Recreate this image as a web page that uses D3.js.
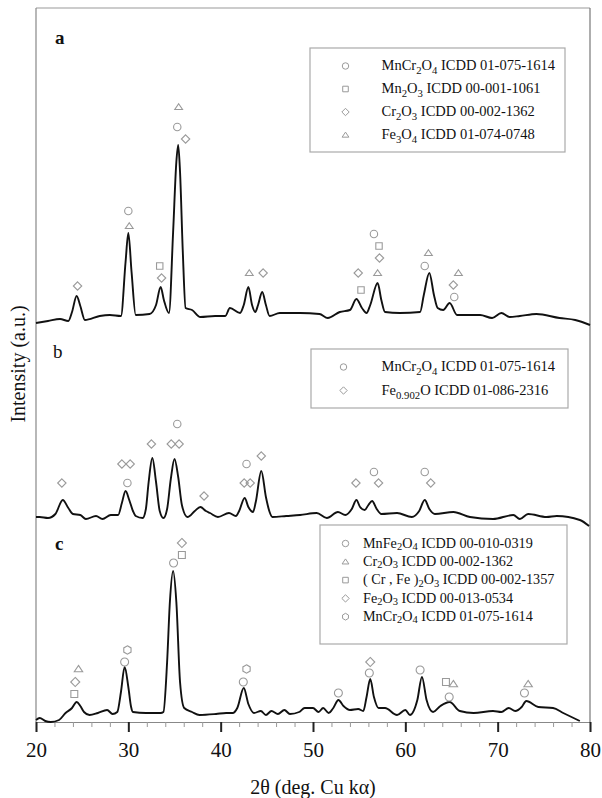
<!DOCTYPE html>
<html><head><meta charset="utf-8">
<script src="https://cdn.jsdelivr.net/npm/d3@7"></script>
<style>body{margin:0;background:#fff}</style></head>
<body><svg id="chart" width="602" height="798"></svg>
<script>
// ---------------- data ----------------
const xTicks = [20, 30, 40, 50, 60, 70, 80];
const xMinorTicks = [22,24,26,28,32,34,36,38,42,44,46,48,52,54,56,58,62,64,66,68,72,74,76,78];
const xLabel = "2θ (deg. Cu kα)";
const yLabel = "Intensity (a.u.)";
const panelLabels = ["a", "b", "c"];
const panelOffsets = [400, 205, 0];

// [2theta, intensity]
const patternA = [[20.0,-1],[21.3,1],[22.6,3],[23.5,1],[23.9,10],[24.4,26],[24.8,16],[25.3,2],[26.9,6],[28.0,7],[29.2,6],[29.7,60],[30.0,89],[30.35,50],[30.8,7],[32.3,8],[33.0,17],[33.5,35],[33.85,22],[34.4,9],[34.85,90],[35.2,160],[35.4,177],[35.6,150],[35.9,70],[36.2,14],[36.9,12],[37.8,5],[39.4,6],[40.5,6],[41.0,14],[42.1,9],[42.5,17],[43.0,35],[43.4,17],[43.75,10],[44.05,17],[44.5,30],[44.9,17],[45.3,6],[46.4,9],[48.6,9],[50.7,8],[51.6,4],[52.9,10],[54.0,12],[54.7,23],[55.3,14],[55.8,9],[56.2,17],[57.0,39],[57.4,22],[57.8,10],[59.4,9],[61.6,10],[62.0,27],[62.6,49],[63.1,27],[63.5,14],[64.1,12],[64.8,19],[65.6,7],[68.1,7],[69.4,4],[70.4,9],[71.3,5],[72.4,6],[74.2,8],[76.7,4],[78.4,2],[80.0,-3]];
const patternB = [[20.0,0],[20.4,0],[21.3,-1],[22.1,3],[22.9,17],[23.5,9],[24.0,3],[24.8,2],[25.4,-2],[26.5,1],[27.2,-2],[28.1,2],[28.9,2],[29.3,14],[29.7,26],[30.1,17],[30.5,6],[30.8,1],[31.55,-1],[31.9,8],[32.2,35],[32.6,59],[33.0,35],[33.4,6],[33.8,-1],[34.2,8],[34.6,38],[35.0,58],[35.4,40],[35.8,12],[36.4,0],[37.2,6],[37.8,10],[38.4,6],[38.85,4],[39.7,0],[40.9,4],[41.65,1],[42.0,6],[42.6,19],[43.0,10],[43.5,5],[43.8,15],[44.4,46],[44.9,20],[45.3,5],[45.6,0],[47.1,1],[48.6,2],[50.4,4],[51.5,-1],[52.7,5],[53.5,2],[54.2,8],[54.7,17],[55.1,10],[55.6,7],[56.0,12],[56.4,16],[56.9,8],[57.4,3],[59.1,4],[60.7,0],[61.5,6],[62.1,17],[62.6,8],[63.2,3],[65.2,5],[67.0,0],[69.5,-2],[71.7,2],[72.4,-2],[73.3,3],[75.3,0],[76.4,1],[78.9,-3],[79.9,-9]];
const patternC = [[20.0,2],[20.4,4],[21.0,1],[21.6,0],[22.5,2],[23.2,9],[23.9,14],[24.4,20],[24.8,16],[25.2,10],[25.8,7],[26.7,9],[27.7,12],[28.3,8],[28.8,10],[29.2,30],[29.6,55],[30.0,35],[30.3,15],[30.5,10],[31.9,9],[33.5,9],[33.8,10],[34.2,60],[34.5,120],[34.85,151],[35.2,120],[35.6,40],[36.05,14],[36.9,10],[37.7,7],[39.5,8],[40.6,9],[41.3,9],[41.8,14],[42.5,34],[43.0,18],[43.6,9],[44.35,11],[44.9,7],[45.5,11],[46.2,8],[46.9,12],[47.5,8],[48.5,10],[49.1,14],[50.0,14],[50.6,10],[51.1,14],[51.7,9],[52.2,14],[52.75,22],[53.3,16],[54.0,12],[54.9,13],[55.45,11],[55.8,25],[56.2,43],[56.6,25],[57.1,14],[57.8,14],[59.1,7],[60.0,12],[60.5,7],[61.3,22],[61.8,45],[62.3,22],[63.0,10],[63.8,16],[64.8,20],[65.9,11],[67.4,9],[69.5,11],[70.4,10],[71.2,14],[71.9,11],[72.6,15],[73.1,21],[74.4,15],[76.0,14],[77.1,9],[78.9,1]];

// [shape, 2theta, intensity]
const markersA = [["diamond",24.5,36],["circle",30.0,111],["triangle",30.1,96],["square",33.4,56],["diamond",33.6,44],["triangle",35.45,215],["circle",35.3,195],["diamond",36.2,183],["triangle",43.1,49],["diamond",44.6,49],["diamond",54.9,49],["square",55.2,32],["circle",56.6,88],["square",57.15,76],["diamond",57.2,64],["triangle",57.0,49],["triangle",62.5,69],["circle",62.1,56],["triangle",65.75,49],["diamond",65.2,37],["circle",65.3,25]];
const markersB = [["diamond",22.8,34],["diamond",29.3,53],["diamond",30.2,53],["circle",29.9,34],["diamond",32.5,73],["diamond",34.65,73],["diamond",35.5,73],["circle",35.3,93],["diamond",38.2,21],["diamond",42.55,34],["diamond",43.2,34],["circle",42.8,53],["diamond",44.4,61],["diamond",54.65,34],["circle",56.6,45],["diamond",57.1,34],["circle",62.1,45],["diamond",62.75,34]];
const markersC = [["triangle",24.6,53],["diamond",24.25,40],["square",24.15,28],["hexagon",29.9,72],["circle",29.6,60],["diamond",35.8,179],["square",35.8,167],["circle",34.9,159],["hexagon",42.8,53],["circle",42.45,40],["circle",52.75,29],["diamond",56.2,60],["circle",56.1,49],["circle",61.6,52],["square",64.4,40],["triangle",65.2,38],["circle",64.75,25],["triangle",73.3,38],["circle",72.9,29]];

// legend entries: [shape, label]  (_{..} = subscript)
const legendA = [["circle","MnCr_{2}O_{4} ICDD 01-075-1614"],["square","Mn_{2}O_{3} ICDD 00-001-1061"],["diamond","Cr_{2}O_{3} ICDD 00-002-1362"],["triangle","Fe_{3}O_{4} ICDD 01-074-0748"]];
const legendB = [["circle","MnCr_{2}O_{4} ICDD 01-075-1614"],["diamond","Fe_{0.902}O ICDD 01-086-2316"]];
const legendC = [["circle","MnFe_{2}O_{4} ICDD 00-010-0319"],["triangle","Cr_{2}O_{3} ICDD 00-002-1362"],["square","( Cr , Fe )_{2}O_{3} ICDD 00-002-1357"],["diamond","Fe_{2}O_{3} ICDD 00-013-0534"],["hexagon","MnCr_{2}O_{4} ICDD 01-075-1614"]];

// ---------------- drawing ----------------
const svg = d3.select("#chart");
const L = 36, R = 590, T = 8, B = 722;
const x = d3.scaleLinear().domain([20, 80]).range([L, R]);
const y = d3.scaleLinear().domain([0, 714]).range([B, T]);
const serif = "'Liberation Serif','Times New Roman',serif";
const markColor = "#9a9a9a";

// frame
svg.append("line").attr("x1", L).attr("x2", R).attr("y1", T).attr("y2", T).attr("stroke", "#999").attr("stroke-width", 1.2);
svg.append("line").attr("x1", R).attr("x2", R).attr("y1", T).attr("y2", B).attr("stroke", "#777").attr("stroke-width", 1.2);
svg.append("line").attr("x1", L).attr("x2", L).attr("y1", T).attr("y2", B).attr("stroke", "#888").attr("stroke-width", 1.2);

// x axis
const axis = svg.append("g").attr("transform", `translate(0,${B})`)
  .call(d3.axisBottom(x).tickValues(xTicks).tickSize(10).tickFormat(d3.format("d")));
axis.select(".domain").attr("stroke", "#888").attr("stroke-width", 1.2);
axis.selectAll(".tick line").attr("stroke", "#222").attr("stroke-width", 2);
axis.selectAll(".tick text").attr("font-family", serif).attr("font-size", 21).attr("fill", "#111").attr("dy", "1.05em");
const minor = svg.append("g").attr("transform", `translate(0,${B})`)
  .call(d3.axisBottom(x).tickValues(xMinorTicks).tickSize(5).tickFormat(""));
minor.select(".domain").remove();
minor.selectAll(".tick line").attr("stroke", "#999").attr("stroke-width", 1);
minor.selectAll(".tick text").remove();

svg.append("text").attr("x", (L + R) / 2).attr("y", 794).attr("text-anchor", "middle")
  .attr("font-family", serif).attr("font-size", 20).attr("fill", "#111").text(xLabel);
svg.append("text").attr("transform", "translate(25,364) rotate(-90)").attr("text-anchor", "middle")
  .attr("font-family", serif).attr("font-size", 20).attr("fill", "#111").text(yLabel);

// symbol path generator
function symPath(shape, s) {
  const p = d3.path();
  if (shape === "circle") { p.moveTo(s * 0.95, 0); p.arc(0, 0, s * 0.95, 0, 2 * Math.PI); }
  else if (shape === "square") { const h = s * 0.82; p.rect(-h, -h, 2 * h, 2 * h); }
  else if (shape === "diamond") { const h = s * 1.08; p.moveTo(0, -h); p.lineTo(h, 0); p.lineTo(0, h); p.lineTo(-h, 0); p.closePath(); }
  else if (shape === "triangle") { const w = s * 1.0, h = s * 0.85; p.moveTo(0, -h); p.lineTo(w, h * 0.75); p.lineTo(-w, h * 0.75); p.closePath(); }
  else if (shape === "hexagon") { const r = s * 1.0; for (let i = 0; i < 6; i++) { const a = Math.PI / 3 * i - Math.PI / 2; const px = r * Math.cos(a), py = r * Math.sin(a); if (i === 0) p.moveTo(px, py); else p.lineTo(px, py); } p.closePath(); }
  return p.toString();
}

const line = d3.line().x(d => x(d[0])).y(d => d[1]).curve(d3.curveMonotoneX);
const patterns = [patternA, patternB, patternC];
const markerSets = [markersA, markersB, markersC];

patterns.forEach((pat, i) => {
  const off = panelOffsets[i];
  svg.append("path").datum(pat.map(d => [d[0], y(d[1] + off)]))
    .attr("d", line).attr("fill", "none").attr("stroke", "#111").attr("stroke-width", 1.9).attr("stroke-linejoin", "round");
  svg.append("g").selectAll("path").data(markerSets[i]).join("path")
    .attr("transform", d => `translate(${x(d[1])},${y(d[2] + off)})`)
    .attr("d", d => symPath(d[0], i === 2 ? 4.2 : 3.9))
    .attr("fill", "none").attr("stroke", markColor).attr("stroke-width", 1.1);
});

// panel labels
[[55, 44, "bold"], [53, 358, "normal"], [55, 550, "bold"]].forEach((p, i) => {
  svg.append("text").attr("x", p[0]).attr("y", p[1]).attr("font-family", serif).attr("font-size", 19)
    .attr("font-weight", p[2]).attr("fill", "#111").text(panelLabels[i]);
});

// rich text with subscripts
function richText(sel, str, fs, subShift) {
  const parts = str.split(/(_\{[^}]*\})/).filter(s => s.length);
  let shifted = 0;
  parts.forEach(pt => {
    if (pt.startsWith("_{")) {
      sel.append("tspan").attr("font-size", fs * 0.74).attr("dy", fs * subShift - shifted).text(pt.slice(2, -1));
      shifted = fs * subShift;
    } else {
      sel.append("tspan").attr("font-size", fs).attr("dy", -shifted).text(pt);
      shifted = 0;
    }
  });
}

function legend(items, box, mx, tx, y0, dy, fs, ms, subShift) {
  svg.append("rect").attr("x", box[0]).attr("y", box[1]).attr("width", box[2]).attr("height", box[3])
    .attr("fill", "#fff").attr("stroke", "#aaa").attr("stroke-width", 1.2);
  items.forEach((it, k) => {
    const cy = y0 + k * dy;
    svg.append("path").attr("transform", `translate(${mx},${cy})`).attr("d", symPath(it[0], ms))
      .attr("fill", "none").attr("stroke", markColor).attr("stroke-width", 1);
    const t = svg.append("text").attr("x", tx).attr("y", cy + fs * 0.3).attr("font-size", fs)
      .attr("font-family", serif).attr("fill", "#111");
    richText(t, it[1], fs, subShift);
  });
}
legend(legendA, [310, 48, 255, 104], 345.5, 381.5, 66, 23, 14.5, 3.4, 0.28);
legend(legendB, [311, 349, 257, 59], 343.5, 381.5, 367, 23.5, 14.5, 3.4, 0.28);
legend(legendC, [320, 525, 247, 119], 345.5, 363, 543.5, 18.3, 14.2, 3.4, 0.16);
</script>
</body></html>
